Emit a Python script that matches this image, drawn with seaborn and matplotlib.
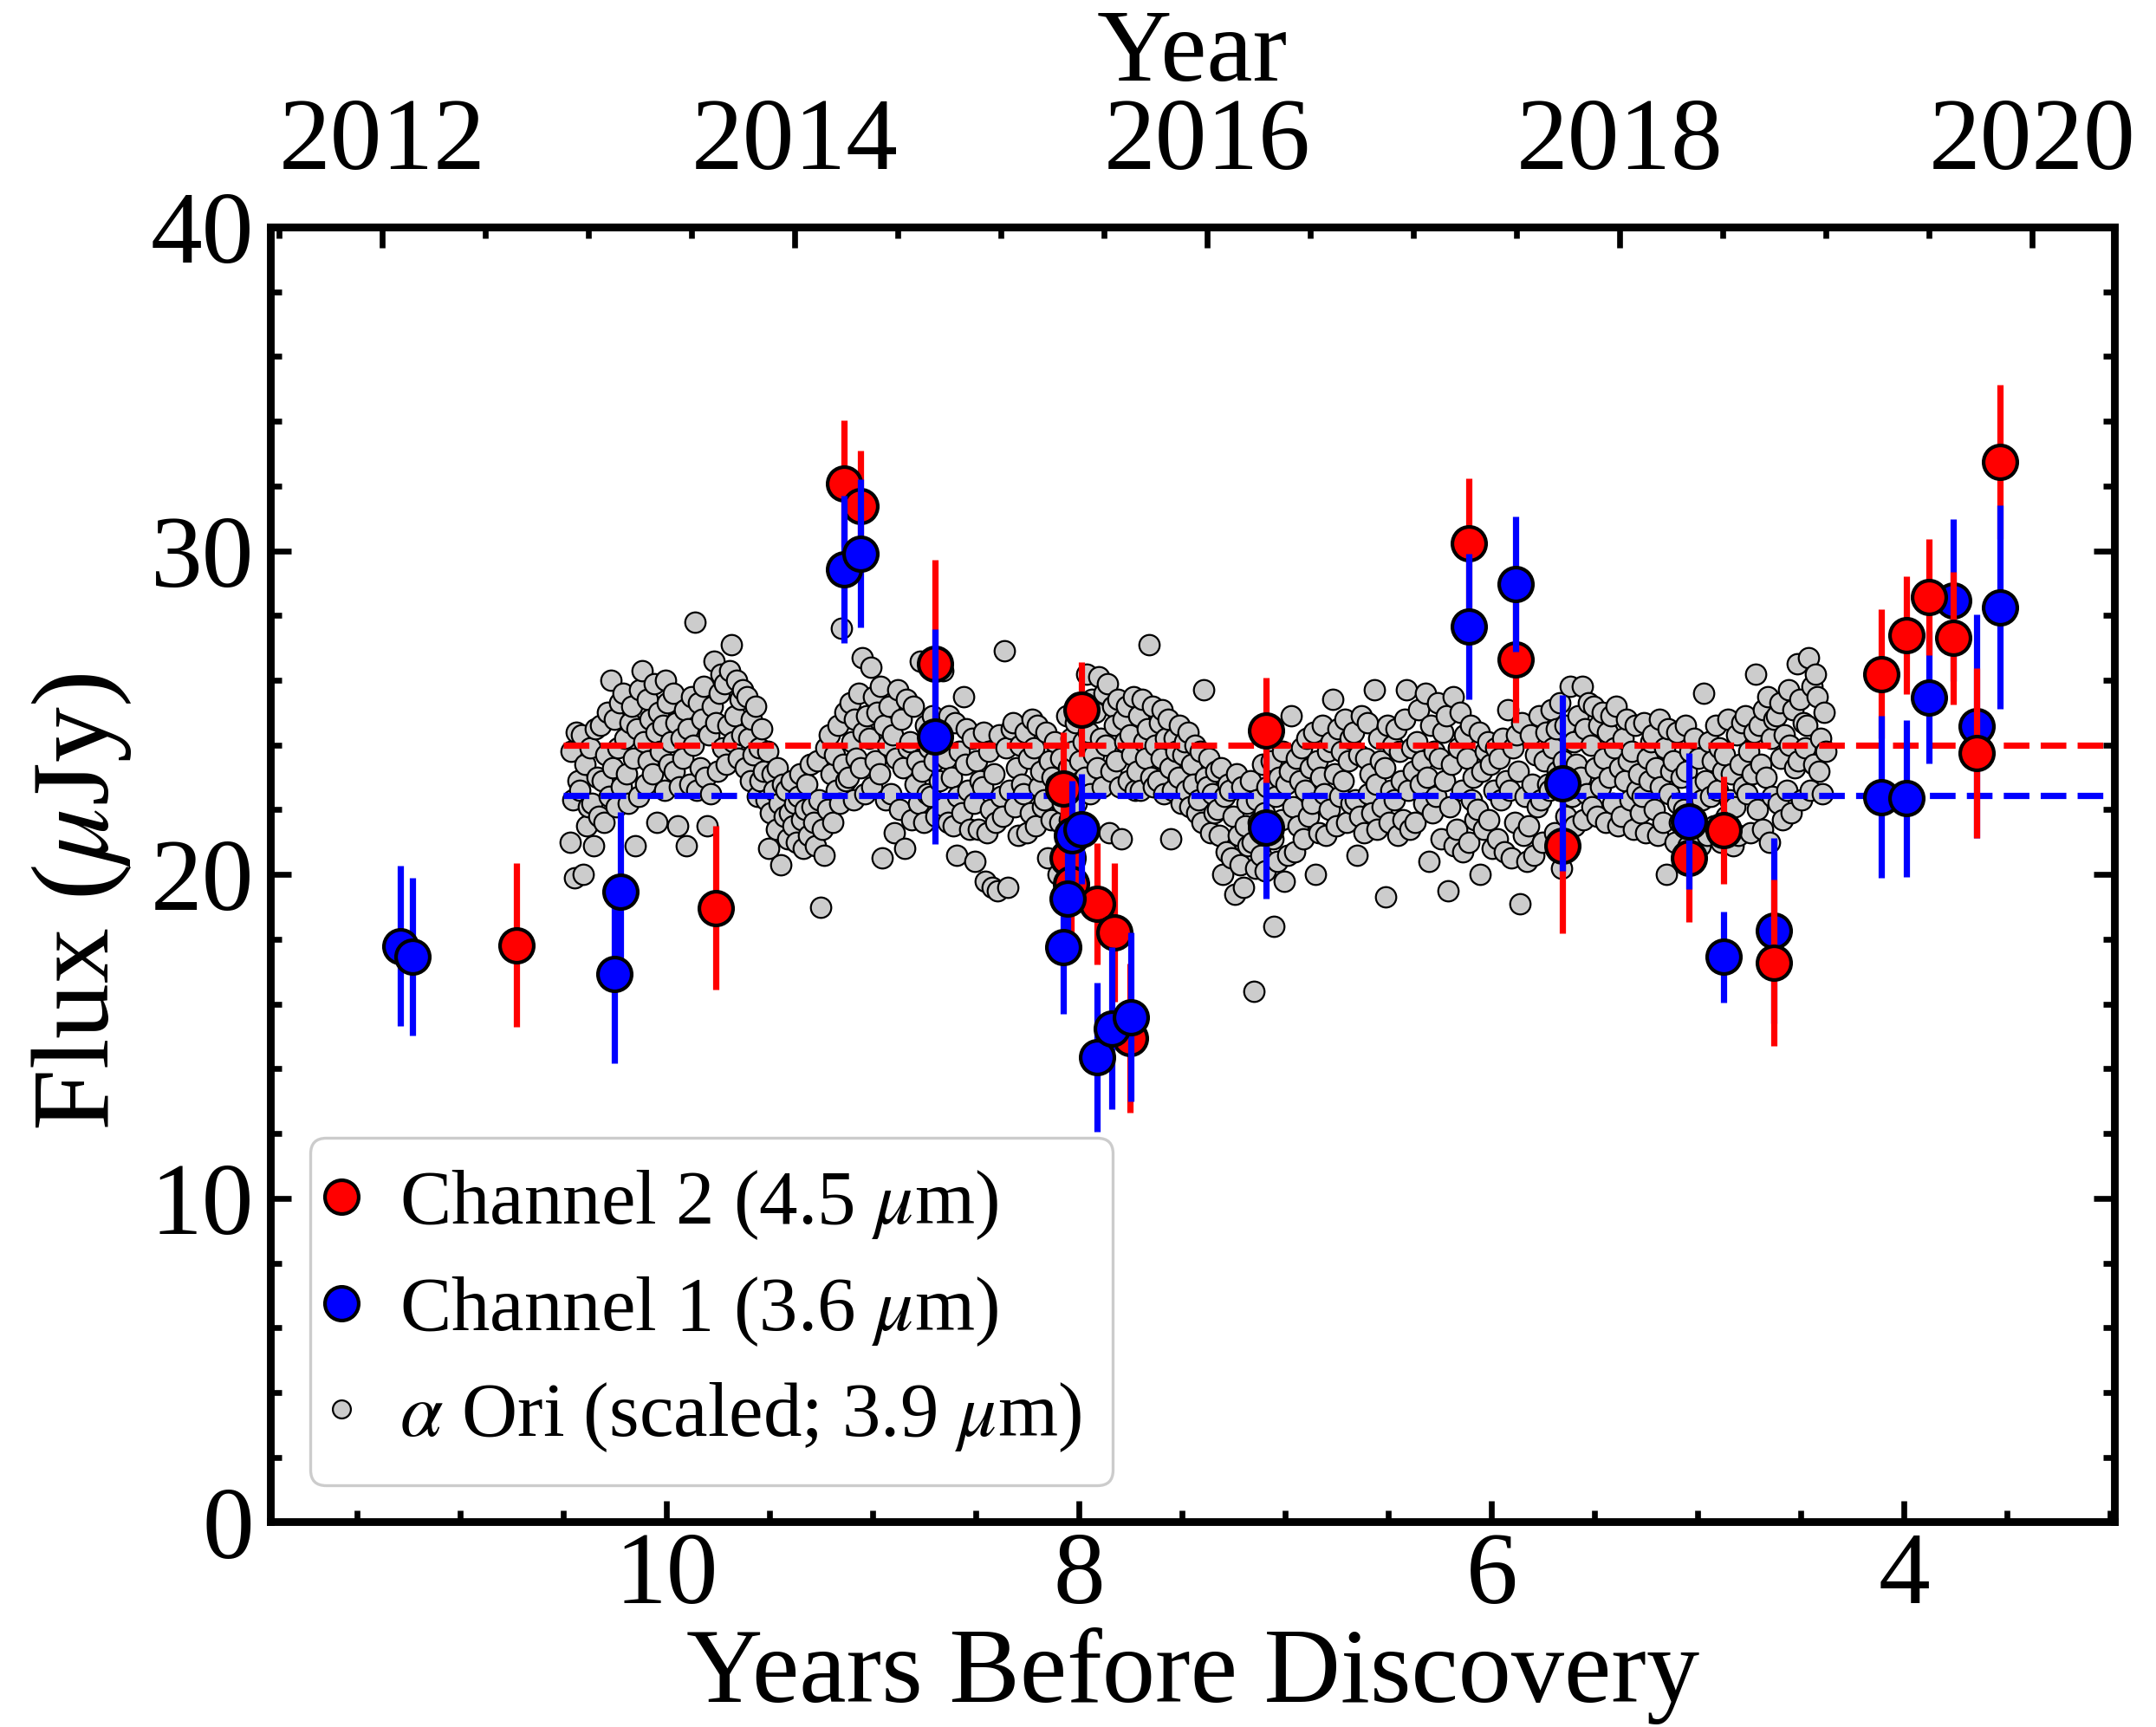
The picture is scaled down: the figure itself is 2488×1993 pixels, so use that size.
import matplotlib
matplotlib.use("Agg")
import matplotlib.pyplot as plt
import seaborn as sns
import pandas as pd
from matplotlib.lines import Line2D
from matplotlib.ticker import MultipleLocator, FixedLocator

# ---------------- data ----------------
# Channel 2 (4.5 um): years before discovery, flux (uJy), 1-sigma error
ch2_t = [10.728, 9.763, 9.14, 9.06, 8.70, 8.076, 8.057, 8.04, 7.99, 7.915, 7.83, 7.755,
         7.092, 6.11, 5.883, 5.655, 5.043, 4.877, 4.633, 4.11, 3.99, 3.88, 3.76, 3.647, 3.535]
ch2_f = [17.82, 18.97, 32.08, 31.37, 26.51, 22.65, 20.5, 19.7, 25.1, 19.1, 18.2, 14.95,
         24.45, 30.23, 26.65, 20.89, 20.52, 21.37, 17.28, 26.2, 27.38, 28.57, 27.3, 23.76, 32.74]
ch2_e = [2.53, 2.53, 1.95, 1.72, 3.21, 1.75, 2.0, 1.9, 1.45, 1.87, 2.14, 2.3,
         1.62, 2.0, 1.96, 2.7, 2.0, 1.67, 2.57, 2.0, 1.82, 1.8, 2.05, 2.62, 2.39]
# epochs where the channel 2 measurement was taken after channel 1
ch2_late = [False, False, False, False, False, False, False, False, False, False, False, False,
            True, False, False, False, False, False, True, False, False, True, True, True, False]

# Channel 1 (3.6 um)
ch1_t = [11.29, 11.235, 10.255, 10.225, 9.14, 9.06, 8.70, 8.076, 8.057, 8.036, 7.99, 7.913,
         7.84, 7.75, 7.092, 6.11, 5.883, 5.655, 5.043, 4.877, 4.633, 4.11, 3.99, 3.88, 3.76,
         3.647, 3.535]
ch1_f = [17.79, 17.46, 16.93, 19.47, 29.43, 29.92, 24.27, 17.75, 19.25, 21.2, 21.4, 14.35,
         15.25, 15.6, 21.46, 27.66, 28.98, 22.82, 21.65, 17.45, 18.26, 22.39, 22.35, 25.47, 28.47,
         24.58, 28.26]
ch1_e = [2.48, 2.43, 2.77, 2.47, 2.28, 2.3, 3.32, 2.05, 1.8, 1.7, 1.7, 2.3,
         2.5, 2.6, 2.2, 2.26, 2.09, 2.72, 2.1, 1.4, 2.86, 2.5, 2.43, 2.05, 2.5,
         3.45, 3.15]

# mean pre-outburst levels
ch2_mean = 24.0
ch1_mean = 22.45
mean_span = (10.5, 3.02)

# alpha Ori light curve (scaled), sampled in 0.05-yr blocks
ori_bins = [10.45, 10.40, 10.35, 10.30, 10.25, 10.20, 10.15, 10.10, 10.05, 10.00,
            9.95, 9.90, 9.85, 9.80, 9.75, 9.70, 9.65, 9.60, 9.55, 9.50,
            9.45, 9.40, 9.35, 9.30, 9.25, 9.20, 9.15, 9.10, 9.05, 9.00,
            8.95, 8.90, 8.85, 8.80, 8.75, 8.70, 8.65, 8.60, 8.55, 8.50,
            8.45, 8.40, 8.35, 8.30, 8.25, 8.20, 8.15, 8.10, 8.05, 8.00,
            7.95, 7.90, 7.85, 7.80, 7.75, 7.70, 7.65, 7.60, 7.55, 7.50,
            7.45, 7.40, 7.35, 7.30, 7.25, 7.20, 7.15, 7.10, 7.05, 7.00,
            6.95, 6.90, 6.85, 6.80, 6.75, 6.70, 6.65, 6.60, 6.55, 6.50,
            6.45, 6.40, 6.35, 6.30, 6.25, 6.20, 6.15, 6.10, 6.05, 6.00,
            5.95, 5.90, 5.85, 5.80, 5.75, 5.70, 5.65, 5.60, 5.55, 5.50,
            5.45, 5.40, 5.35, 5.30, 5.25, 5.20, 5.15, 5.10, 5.05, 5.00,
            4.95, 4.90, 4.85, 4.80, 4.75, 4.70, 4.65, 4.60, 4.55, 4.50,
            4.45, 4.40]
ori_offsets = [0.02, 0.012, 0.004, -0.004, -0.012, -0.02]
ori_flux = [
    [21.0, 23.8, 22.3, 19.9, 24.4, 22.9], [22.6, 24.3, 20.0, 23.4, 21.5, 22.1],
    [23.9, 22.2, 20.9, 24.5, 23.0, 21.8], [24.6, 22.9, 21.6, 23.7, 25.0, 22.4],
    [26.0, 23.3, 24.8, 22.1, 23.9, 25.3], [22.7, 25.6, 24.2, 23.1, 22.2, 24.7],
    [25.2, 23.6, 20.9, 24.5, 22.4, 25.7], [26.3, 24.1, 22.8, 25.4, 23.5, 24.8],
    [23.1, 25.9, 24.4, 21.6, 25.0, 23.8], [24.6, 22.6, 26.0, 25.3, 23.4, 24.1],
    [25.6, 23.2, 24.7, 21.5, 22.7, 24.2], [23.6, 25.1, 20.9, 24.5, 22.8, 25.5],
    [24.0, 27.8, 22.6, 25.3, 23.3, 24.8], [25.8, 23.0, 21.5, 24.3, 22.5, 25.2],
    [26.6, 24.7, 23.2, 25.6, 26.2, 23.9], [25.9, 23.4, 24.6, 26.3, 27.1, 24.1],
    [24.9, 26.0, 23.6, 25.4, 24.3, 25.7], [23.3, 25.5, 24.2, 22.9, 24.8, 23.7],
    [25.2, 22.4, 23.9, 22.9, 24.5, 23.2], [22.3, 23.8, 20.8, 21.9, 23.1, 22.6],
    [21.4, 23.3, 22.2, 20.3, 22.8, 21.8], [22.6, 21.1, 21.9, 22.9, 21.5, 22.2],
    [21.0, 22.4, 23.1, 21.7, 20.8, 22.0], [22.8, 21.2, 23.4, 22.1, 21.6, 20.9],
    [23.5, 22.3, 19.0, 21.4, 20.6, 23.9], [22.0, 24.3, 23.1, 21.6, 23.7, 22.6],
    [24.6, 22.2, 27.6, 23.4, 25.0, 22.9], [23.0, 25.3, 24.1, 22.3, 24.8, 23.6],
    [25.6, 23.3, 26.7, 24.4, 22.5, 24.9], [24.2, 26.4, 22.7, 25.5, 23.5, 25.0],
    [23.1, 25.8, 20.5, 24.6, 22.3, 24.0], [25.2, 22.5, 24.3, 21.3, 23.6, 25.7],
    [22.0, 24.8, 23.3, 20.8, 25.4, 23.9], [24.1, 21.7, 25.2, 22.8, 23.5, 22.2],
    [26.6, 23.2, 21.6, 24.6, 22.5, 23.9], [22.4, 24.9, 23.5, 21.8, 24.2, 22.9],
    [24.5, 26.3, 22.1, 23.6, 21.6, 24.9], [23.0, 21.5, 24.7, 20.6, 22.4, 23.8],
    [21.9, 25.5, 23.4, 24.5, 22.6, 21.4], [24.2, 22.2, 20.4, 23.5, 21.4, 22.9],
    [22.7, 24.4, 19.8, 21.3, 23.8, 22.0], [19.6, 23.1, 21.6, 19.5, 24.3, 22.4],
    [21.8, 26.9, 23.9, 19.6, 22.6, 24.5], [24.7, 22.1, 23.3, 21.2, 24.0, 22.8],
    [22.5, 24.4, 21.3, 23.6, 21.9, 24.8], [23.9, 21.5, 24.6, 22.7, 23.2, 22.1],
    [22.3, 24.4, 20.5, 23.5, 21.7, 23.0], [24.1, 22.8, 20.0, 21.6, 23.6, 22.2],
    [22.6, 24.9, 23.3, 21.7, 24.2, 23.8], [24.7, 22.2, 25.3, 23.5, 22.9, 24.1],
    [23.0, 26.2, 24.4, 22.5, 25.4, 23.7], [25.0, 23.3, 26.1, 24.2, 22.7, 25.6],
    [24.0, 25.9, 21.3, 23.2, 25.2, 24.6], [23.5, 25.4, 22.7, 21.1, 24.8, 24.1],
    [25.2, 22.9, 24.3, 23.7, 25.5, 22.6], [23.2, 24.9, 22.6, 25.4, 24.1, 23.6],
    [24.5, 27.1, 23.0, 25.2, 22.7, 24.0], [22.9, 24.7, 23.6, 25.1, 22.5, 24.2],
    [24.8, 23.3, 21.1, 22.6, 24.2, 23.8], [23.0, 24.6, 22.2, 23.7, 24.1, 22.6],
    [24.4, 22.1, 23.4, 22.8, 24.0, 21.9], [22.3, 23.8, 21.6, 25.7, 23.0, 22.7],
    [23.6, 21.3, 22.5, 21.9, 23.2, 22.0], [21.2, 23.3, 20.0, 22.4, 20.7, 22.8],
    [22.6, 20.5, 21.8, 19.4, 23.1, 21.2], [20.3, 22.7, 19.6, 21.5, 22.2, 20.9],
    [22.9, 21.0, 16.4, 20.2, 22.3, 21.6], [20.6, 23.4, 21.9, 20.1, 22.7, 21.3],
    [23.5, 21.1, 18.4, 22.4, 20.4, 23.0], [21.7, 23.8, 19.8, 22.8, 20.6, 23.2],
    [24.9, 22.1, 20.7, 23.6, 21.5, 22.9], [23.9, 21.1, 22.6, 24.2, 21.8, 23.3],
    [22.2, 24.4, 20.0, 23.5, 21.3, 23.0], [24.6, 22.5, 21.2, 23.8, 22.0, 24.1],
    [25.4, 23.1, 21.5, 24.5, 22.4, 23.8], [22.9, 24.8, 21.6, 23.5, 24.2, 22.2],
    [24.4, 22.3, 20.6, 23.7, 21.8, 24.9], [21.3, 23.6, 24.7, 22.5, 23.1, 21.9],
    [25.7, 22.8, 21.4, 24.2, 23.5, 22.1], [23.3, 19.3, 24.6, 21.6, 22.6, 24.0],
    [22.3, 24.5, 21.2, 23.8, 22.9, 21.7], [24.8, 25.7, 22.6, 21.4, 23.9, 23.2],
    [21.6, 24.1, 25.1, 22.8, 23.5, 22.2], [25.6, 23.0, 20.4, 24.6, 21.9, 23.8],
    [22.4, 25.3, 23.6, 21.1, 24.4, 22.9], [24.9, 19.5, 22.1, 23.4, 25.5, 20.9],
    [21.4, 23.9, 25.0, 22.6, 20.7, 24.3], [23.6, 21.0, 24.6, 22.3, 23.0, 21.7],
    [22.0, 24.4, 20.0, 23.2, 21.4, 23.8], [24.1, 21.7, 23.4, 20.8, 22.6, 23.9],
    [21.1, 23.6, 22.3, 24.2, 20.7, 22.9], [25.1, 22.6, 20.5, 23.9, 21.6, 24.3],
    [23.2, 19.1, 24.7, 21.2, 22.4, 20.4], [21.5, 24.3, 22.8, 20.6, 23.7, 22.1],
    [24.9, 22.3, 21.0, 23.5, 24.4, 22.8], [22.6, 25.1, 23.9, 21.3, 24.5, 23.2],
    [25.3, 20.2, 23.5, 24.6, 21.8, 22.9], [25.8, 22.4, 24.1, 21.5, 23.4, 24.9],
    [23.0, 25.8, 21.7, 24.5, 22.5, 25.3], [24.0, 22.1, 25.2, 23.3, 21.8, 24.6],
    [22.7, 25.0, 23.6, 21.6, 24.4, 23.0], [24.9, 22.2, 23.9, 25.2, 21.5, 23.3],
    [21.8, 24.2, 22.9, 24.8, 23.5, 22.3], [23.8, 21.4, 24.6, 22.6, 23.1, 21.9],
    [22.4, 24.7, 21.3, 23.6, 22.9, 24.1], [24.3, 22.0, 23.3, 21.2, 24.8, 22.7],
    [21.6, 23.9, 20.0, 24.5, 22.5, 23.2], [23.5, 21.0, 24.4, 22.2, 21.6, 23.0],
    [22.0, 24.6, 23.2, 20.9, 23.8, 21.5], [24.2, 21.3, 22.7, 23.6, 20.9, 22.3],
    [25.6, 22.9, 21.2, 24.1, 22.4, 23.5], [21.5, 24.6, 22.6, 23.9, 21.0, 23.2],
    [23.7, 21.8, 24.8, 22.3, 23.1, 20.9], [22.1, 24.3, 21.2, 23.4, 24.7, 22.7],
    [24.9, 22.5, 23.8, 21.3, 23.1, 24.4], [26.2, 22.0, 24.6, 23.4, 21.4, 25.1],
    [23.0, 25.5, 21.0, 24.2, 22.4, 24.8], [24.9, 22.2, 25.3, 23.6, 21.7, 24.3],
    [22.6, 25.7, 24.0, 21.9, 25.1, 23.3], [26.5, 23.5, 25.4, 22.3, 24.7, 23.9],
    [24.6, 26.7, 22.6, 25.8, 23.4, 26.2], [25.5, 23.2, 24.2, 22.5, 25.0, 23.8],
]

YEAR_ZERO = 2023.38  # calendar year of discovery
year_ticks = [2012, 2014, 2016, 2018, 2020]

# ---------------- figure ----------------
sns.set_theme(style="ticks")
plt.rcParams["font.family"] = ["Liberation Serif", "DejaVu Serif"]
plt.rcParams["mathtext.fontset"] = "stix"
for key in ("text.color", "axes.labelcolor", "xtick.color", "ytick.color", "axes.edgecolor"):
    plt.rcParams[key] = "black"

FS = 43
fig = plt.figure(figsize=(12.44, 9.965), dpi=200)
ax = fig.add_axes([0.1256, 0.1187, 0.8551, 0.7499])

ori = pd.DataFrame({
    "t": [b + o for b, fl in zip(ori_bins, ori_flux) for o in ori_offsets[:len(fl)]],
    "f": [v for fl in ori_flux for v in fl],
})
sns.scatterplot(data=ori, x="t", y="f", ax=ax, s=72, color="#cccccc",
                edgecolor="black", linewidth=0.8, zorder=2, legend=False)

ax.hlines([ch2_mean], *mean_span, colors="red", lw=2.6, linestyles=(0, (4.1, 1.8)), zorder=3)
ax.hlines([ch1_mean], *mean_span, colors="blue", lw=2.6, linestyles=(0, (4.1, 1.8)), zorder=3)

ch1 = pd.DataFrame({"t": ch1_t, "f": ch1_f, "e": ch1_e})
ch2 = pd.DataFrame({"t": ch2_t, "f": ch2_f, "e": ch2_e, "late": ch2_late})

MS = 196
ax.errorbar(ch1["t"], ch1["f"], yerr=ch1["e"], fmt="none", ecolor="blue",
            elinewidth=2.6, capsize=0, zorder=5)
sns.scatterplot(data=ch1, x="t", y="f", ax=ax, s=MS, color="blue",
                edgecolor="black", linewidth=1.5, zorder=6, legend=False)
for late, grp in ch2.groupby("late"):
    z = 7 if late else 4
    ax.errorbar(grp["t"], grp["f"], yerr=grp["e"], fmt="none", ecolor="red",
                elinewidth=2.6, capsize=0, zorder=z)
    sns.scatterplot(data=grp, x="t", y="f", ax=ax, s=MS, color="red",
                    edgecolor="black", linewidth=1.5, zorder=z + 0.5, legend=False)

ax.set_xlim(11.92, 2.98)
ax.set_ylim(0, 40)
ax.xaxis.set_major_locator(MultipleLocator(2))
ax.xaxis.set_minor_locator(MultipleLocator(0.5))
ax.yaxis.set_major_locator(MultipleLocator(10))
ax.yaxis.set_minor_locator(MultipleLocator(2))
ax.tick_params(which="both", direction="in", top=False, right=True, width=2.4,
               labelsize=FS, colors="black")
ax.tick_params(which="major", length=8.6)
ax.tick_params(which="minor", length=4.6)
ax.tick_params(axis="x", pad=4)
ax.tick_params(axis="y", pad=7)
for sp in ax.spines.values():
    sp.set_linewidth(3.2)
    sp.set_color("black")

ax.set_xlabel("Years Before Discovery", fontsize=44, labelpad=1)
ax.set_ylabel(r"Flux ($\mu$Jy)", fontsize=46, labelpad=7)
ax.yaxis.label.set_y(0.479)

top = ax.secondary_xaxis("top", functions=(lambda x: YEAR_ZERO - x, lambda y: YEAR_ZERO - y))
top.xaxis.set_major_locator(FixedLocator(year_ticks))
top.xaxis.set_minor_locator(MultipleLocator(0.5))
top.tick_params(which="both", direction="in", width=2.4, labelsize=FS, pad=15, colors="black")
top.tick_params(which="major", length=8.6)
top.tick_params(which="minor", length=4.6)
top.spines["top"].set_linewidth(3.2)
top.set_xlabel("Year", fontsize=FS, labelpad=7)

handles = [
    Line2D([], [], ls="none", marker="o", ms=14, mfc="red", mec="black", mew=1.5),
    Line2D([], [], ls="none", marker="o", ms=14, mfc="blue", mec="black", mew=1.5),
    Line2D([], [], ls="none", marker="o", ms=7.5, mfc="#cccccc", mec="black", mew=0.8),
]
labels = [r"Channel 2 (4.5 $\mu$m)", r"Channel 1 (3.6 $\mu$m)",
          r"$\alpha$ Ori (scaled; 3.9 $\mu$m)"]
leg = ax.legend(handles, labels, loc="lower left", bbox_to_anchor=(0.0216, 0.0287),
                borderaxespad=0, fontsize=32, handlelength=0.0, handletextpad=0.75,
                borderpad=0.4, labelspacing=0.42, frameon=True, fancybox=True,
                edgecolor="#cccccc", framealpha=1)
leg.get_frame().set_linewidth(1.2)

fig.savefig("out.png", dpi=200, facecolor="white")
